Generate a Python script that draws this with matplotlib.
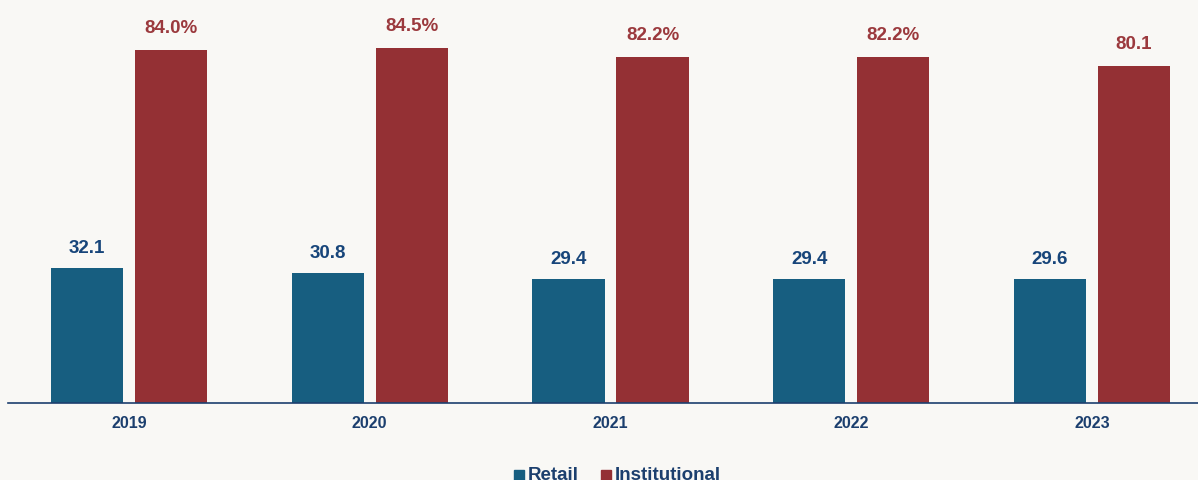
import numpy as np
import matplotlib
matplotlib.use('Agg')
import matplotlib.pyplot as plt
import matplotlib.patches as mpatches

plt.rcParams['font.family'] = ['Liberation Sans', 'DejaVu Sans']

# Data
years         = ['2019', '2020', '2021', '2022', '2023']
retail        = [32.1, 30.8, 29.4, 29.4, 29.6]
institutional = [84.0, 84.5, 82.2, 82.2, 80.1]
retail_lbls   = ['32.1', '30.8', '29.4', '29.4', '29.6']
inst_lbls     = ['84.0%', '84.5%', '82.2%', '82.2%', '80.1']
series_names  = ['Retail', 'Institutional']

BG         = '#f9f8f5'
RETAIL_C   = '#175e80'
INST_C     = '#943034'
RETAIL_TXT = '#17457a'
INST_TXT   = '#9b393d'
NAVY       = '#1c3f6e'

W, H = 1198, 481
fig = plt.figure(figsize=(W / 100, H / 100), dpi=100)
fig.patch.set_facecolor(BG)

# axes placed in pixel terms: baseline at y=403, starts at x=8
ax = fig.add_axes([8 / W, 1 - 404 / H, 1190 / W, 404 / H])
ax.set_facecolor(BG)

x = np.arange(len(years))
off = 0.1745
bw = 0.301
b1 = ax.bar(x - off, retail, bw, color=RETAIL_C)
b2 = ax.bar(x + off, institutional, bw, color=INST_C)

for bar, lbl in zip(b1, retail_lbls):
    ax.annotate(lbl, (bar.get_x() + bar.get_width() / 2, bar.get_height()),
                xytext=(0, 12), textcoords='offset pixels', ha='center', va='bottom',
                fontsize=13.5, fontweight='bold', color=RETAIL_TXT)
for bar, lbl in zip(b2, inst_lbls):
    ax.annotate(lbl, (bar.get_x() + bar.get_width() / 2, bar.get_height()),
                xytext=(0, 14), textcoords='offset pixels', ha='center', va='bottom',
                fontsize=13.5, fontweight='bold', color=INST_TXT)

ax.set_xlim((8 - 129) / 240.75, (1198 - 129) / 240.75)
ax.set_ylim(0, 404 / 4.205)
ax.set_xticks(x)
ax.set_xticklabels(years, fontsize=11.5, fontweight='bold', color=NAVY)
ax.tick_params(axis='x', length=0, pad=9)
ax.set_yticks([])
for s in ['top', 'right', 'left']:
    ax.spines[s].set_visible(False)
ax.spines['bottom'].set_color('#1c3f6e')
ax.spines['bottom'].set_linewidth(1.2)

# legend along the bottom edge
for name, col, sx, tx in [(series_names[0], RETAIL_C, 514, 528),
                          (series_names[1], INST_C, 601, 615)]:
    fig.patches.append(mpatches.Rectangle((sx / W, 0), 10 / W, 10 / H,
                                          transform=fig.transFigure,
                                          color=col, figure=fig))
    fig.text(tx / W, 1 / H, name, ha='left', va='baseline',
             fontsize=13.5, fontweight='bold', color=NAVY)

plt.savefig('out.png', dpi=100, facecolor=BG)
